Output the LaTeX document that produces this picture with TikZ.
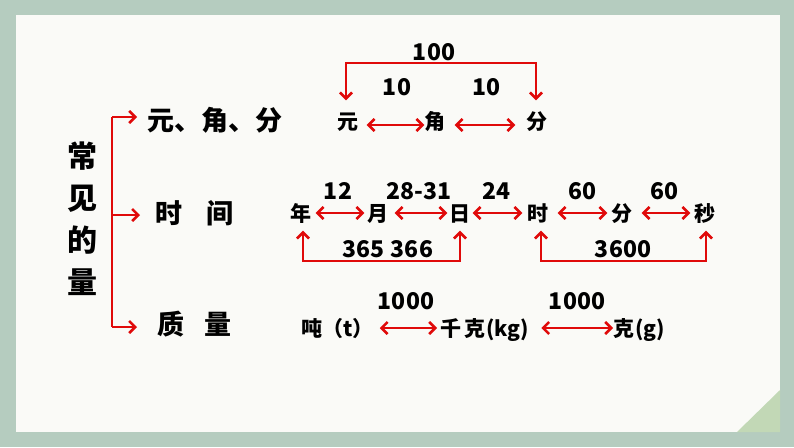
\documentclass[tikz,border=0pt]{standalone}
\usepackage{fontspec}
\setmainfont{Noto Sans CJK SC}
\usetikzlibrary{arrows.meta}
\definecolor{sage}{HTML}{B5CCBF}
\definecolor{panel}{HTML}{FAFAF7}
\definecolor{corner}{HTML}{C2D8B6}
\definecolor{arrred}{HTML}{E00A0A}
\tikzset{
  unitbox/.style={inner sep=0pt, font=\fontsize{21}{21}\selectfont\bfseries, text height=18.5pt, text depth=2.5pt},
  catbox/.style={inner sep=0pt, font=\fontsize{27}{27}\selectfont\bfseries, text height=23.8pt, text depth=3.2pt},
  numlbl/.style={inner sep=0pt, font=\fontsize{23}{23}\selectfont\bfseries},
  redline/.style={draw=arrred, line width=2.6pt},
  barb/.tip={Straight Barb[length=6pt,width=12pt,line width=2.6pt]},
  dblarrow/.style={redline, barb-barb},
  onearrow/.style={redline, -barb},
}
\begin{document}
\begin{tikzpicture}[x=1pt,y=-1pt]
\useasboundingbox (0,0) rectangle (794,447);
\fill[sage] (0,0) rectangle (794,447);
\fill[panel] (16,15) rectangle (780,432);
\fill[corner] (737,432) -- (780,432) -- (780,390) -- cycle;

% left title
\node[inner sep=0pt, font=\fontsize{30}{42}\selectfont\bfseries, align=center] (title) at (82,219) {常\\见\\的\\量};

% categories
\node[catbox, anchor=west] (cat1) at (147,120) {元、角、分};
\node[catbox, anchor=west] (cat2) at (155,213) {时\hspace{24pt}间};
\node[catbox, anchor=west] (cat3) at (157,324) {质\hspace{20pt}量};

\coordinate (bt) at (112,117);
\coordinate (bm) at (112,215);
\coordinate (bb) at (112,327);
\draw[redline] (bt) -- (bb);
\draw[onearrow] (bt) -- ([xshift=-10pt]cat1.west |- bt);
\draw[onearrow] (bm) -- ([xshift=-15pt]cat2.west |- bm);
\draw[onearrow] (bb) -- ([xshift=-20pt]cat3.west |- bb);

% row 1: money
\node[unitbox] (yuan) at (348,121) {元};
\node[unitbox] (jiao) at (435,121) {角};
\node[unitbox] (fen) at (537,121) {分};
\draw[dblarrow, shorten <=8pt, shorten >=0pt] ([yshift=-4pt]yuan.east) -- ([yshift=-4pt]jiao.west);
\draw[dblarrow, shorten <=9pt, shorten >=11pt] ([yshift=-4pt]jiao.east) -- ([yshift=-4pt]fen.west);
\node[numlbl] (l10a) at (397,87) {10};
\node[numlbl] (l10b) at (486,87) {10};
\coordinate (top100) at (440,63);
\draw[dblarrow, shorten <=10pt, shorten >=10pt] ([xshift=-2pt]yuan.north) |- (top100) -| ([xshift=-1pt]fen.north);
\node[numlbl] (l100) at (434,52) {100};

% row 2: time
\node[unitbox] (nian) at (301,213) {年};
\node[unitbox] (yue) at (378,213) {月};
\node[unitbox] (ri) at (460,213) {日};
\node[unitbox] (shi) at (538,213) {时};
\node[unitbox] (fz) at (622,213) {分};
\node[unitbox] (miao) at (705,213) {秒};
\draw[dblarrow, shorten <=4pt, shorten >=3pt] (nian.east) -- (yue.west);
\draw[dblarrow, shorten <=6pt, shorten >=2pt] (yue.east) -- (ri.west);
\draw[dblarrow, shorten <=2pt, shorten >=5pt] (ri.east) -- (shi.west);
\draw[dblarrow, shorten <=9pt, shorten >=4pt] (shi.east) -- (fz.west);
\draw[dblarrow, shorten <=9pt, shorten >=4pt] (fz.east) -- (miao.west);
\node[numlbl] (l12) at (338,191) {12};
\node[numlbl] (l2831) at (419,191) {28-31};
\node[numlbl] (l24) at (496,191) {24};
\node[numlbl] (l60a) at (582,191) {60};
\node[numlbl] (l60b) at (664,191) {60};
\coordinate (bot1) at (380,261);
\coordinate (bot2) at (620,261);
\draw[dblarrow, shorten <=7pt, shorten >=7pt] ([xshift=2pt]nian.south) |- (bot1) -| (ri.south);
\draw[dblarrow, shorten <=7pt, shorten >=7pt] ([xshift=3pt]shi.south) |- (bot2) -| ([xshift=1pt]miao.south);
\node[numlbl] (l365) at (388,249) {365\hspace{6pt}366};
\node[numlbl] (l3600) at (623,249) {3600};

% row 3: mass
\node[unitbox, anchor=west] (dun) at (301,328) {吨（t）};
\node[unitbox, anchor=west] (qk) at (440,328) {千\hspace{3pt}克\hspace{1pt}(kg)};
\node[unitbox, anchor=west] (ke) at (613,328) {克\hspace{1pt}(g)};
\draw[dblarrow, shorten <=6pt, shorten >=3pt] (dun.east) -- (qk.west);
\draw[dblarrow, shorten <=12pt, shorten >=0pt] (qk.east) -- (ke.west);
\node[numlbl] (l1000a) at (406,301) {1000};
\node[numlbl] (l1000b) at (577,301) {1000};
\end{tikzpicture}
\end{document}
